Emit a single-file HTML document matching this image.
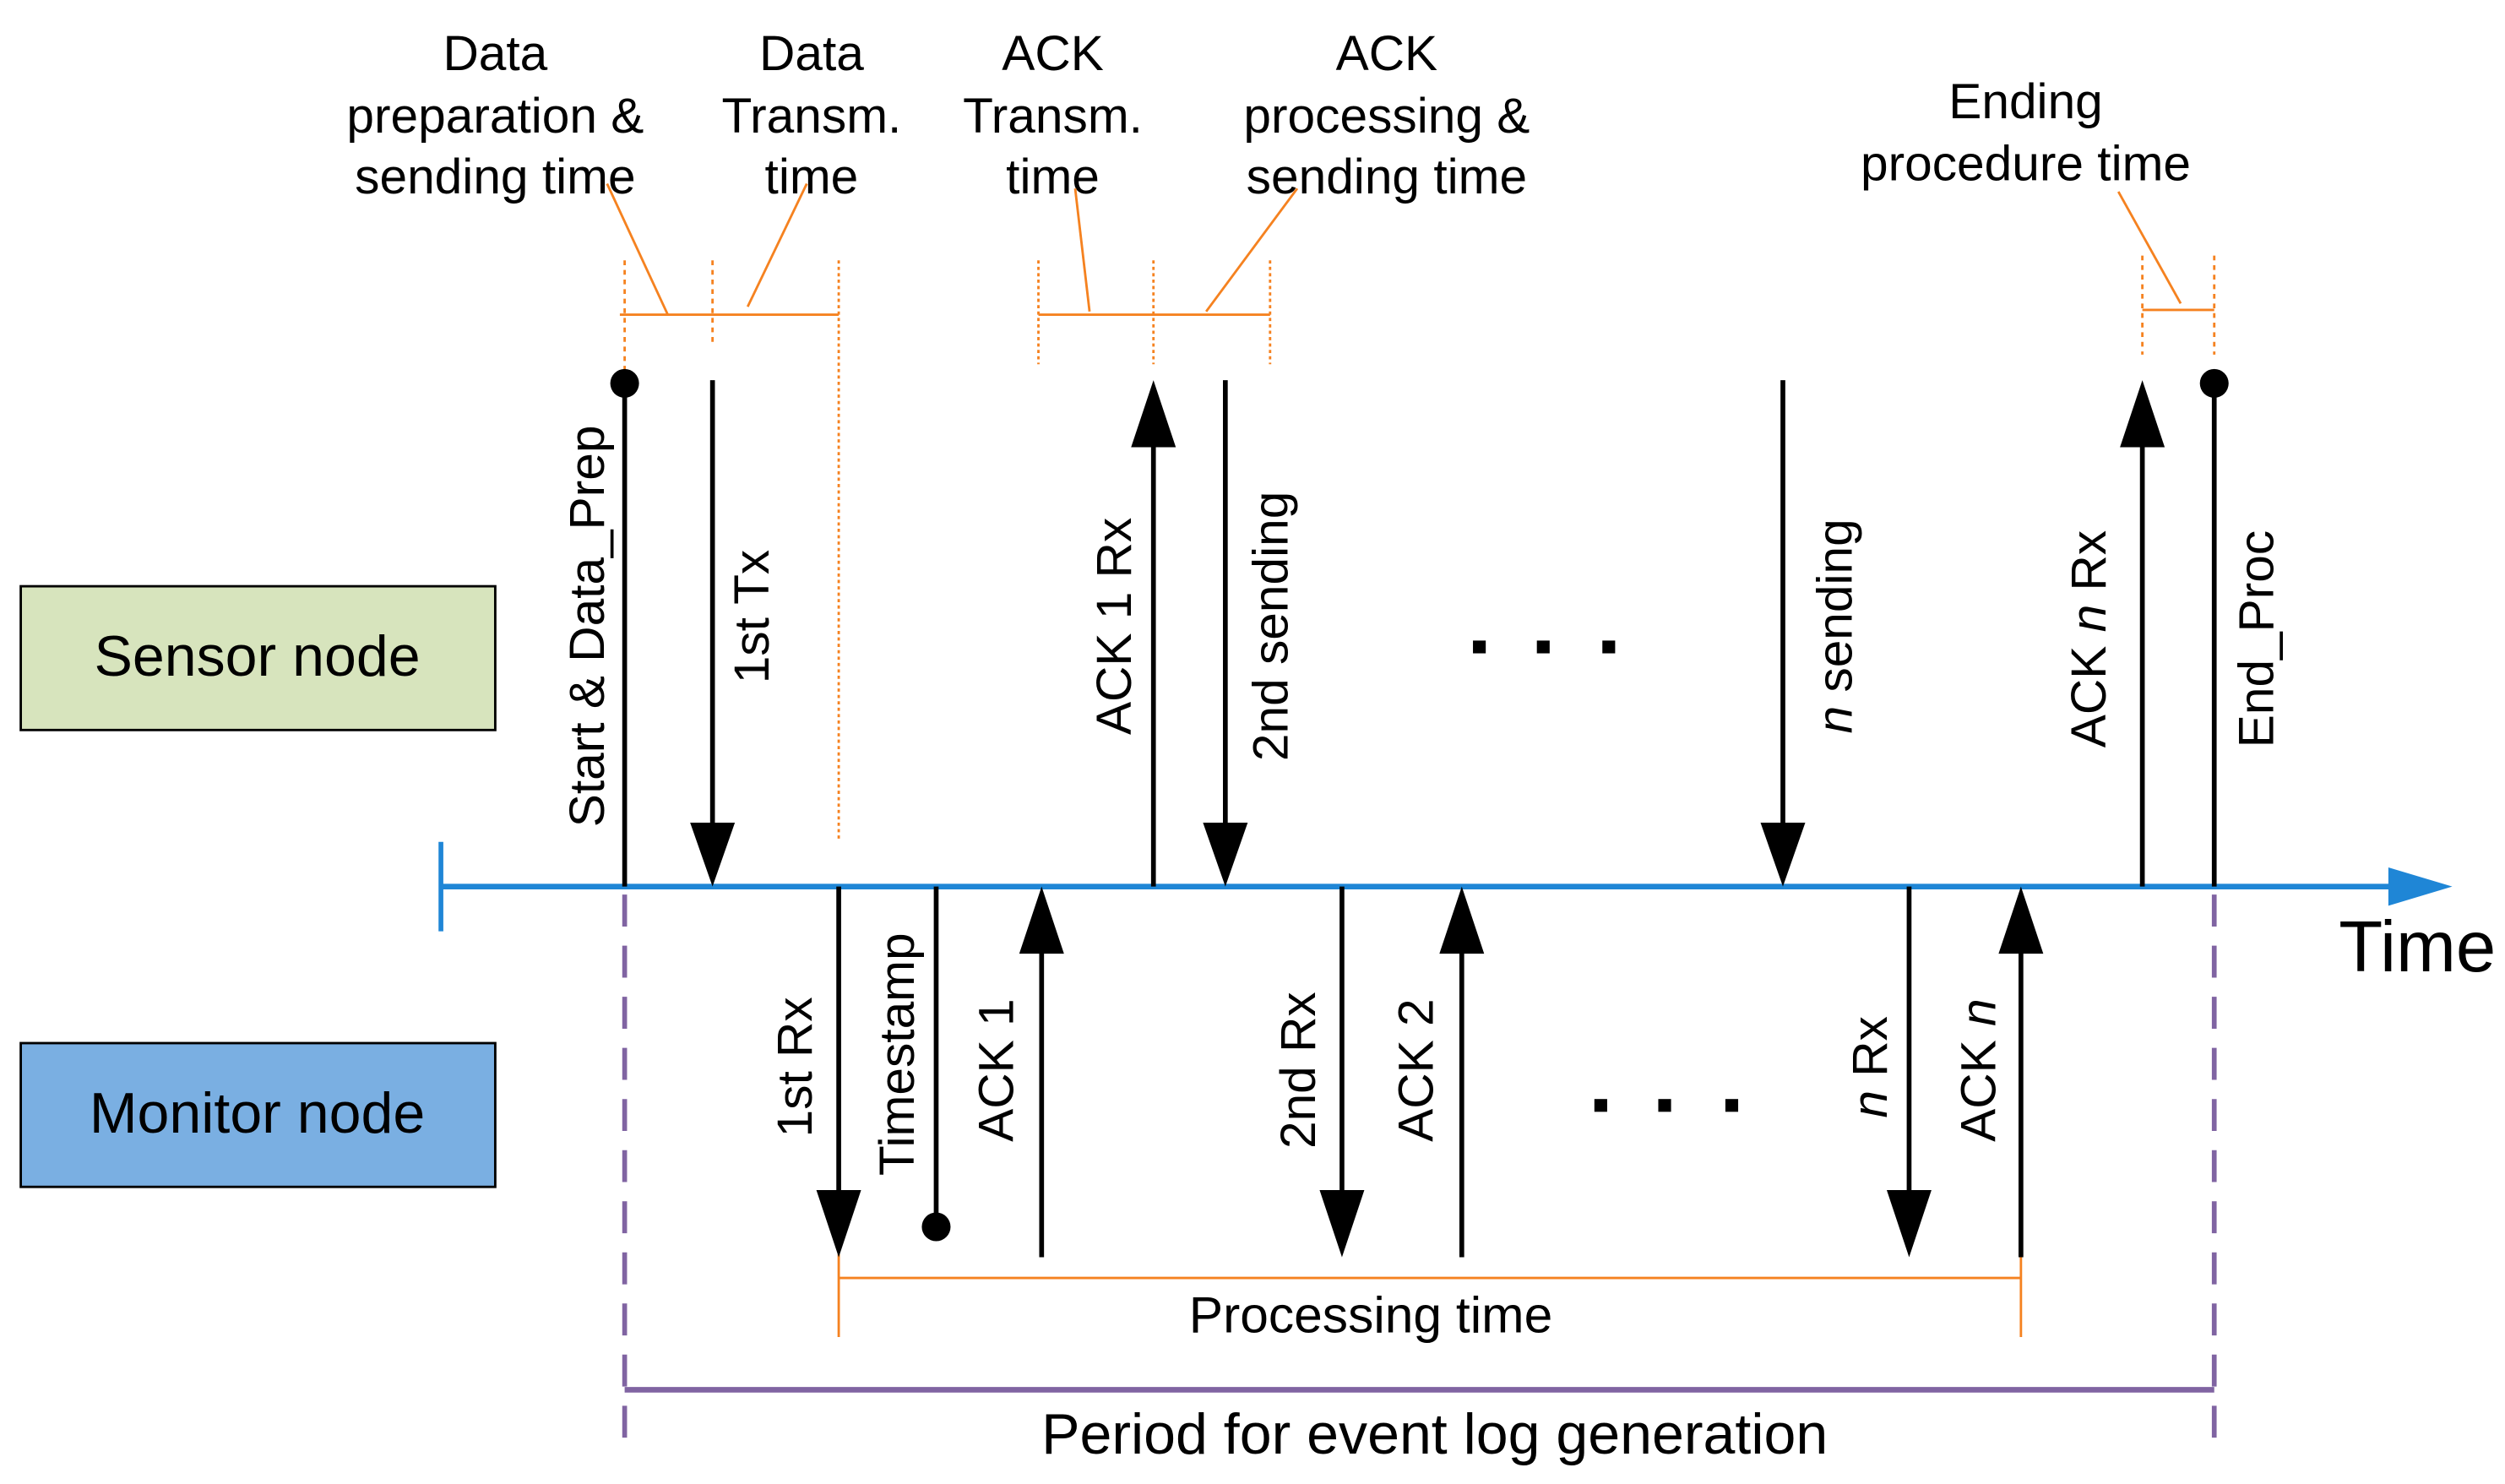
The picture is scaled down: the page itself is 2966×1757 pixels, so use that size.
<!DOCTYPE html>
<html><head><meta charset="utf-8"><style>html,body{margin:0;padding:0;background:#fff}svg{display:block}</style></head>
<body>
<svg width="2966" height="1757" viewBox="0 0 1568 929" preserveAspectRatio="none" xmlns="http://www.w3.org/2000/svg" font-family="Liberation Sans, Arial, sans-serif">
<!-- boxes -->
<rect x="13" y="367" width="297" height="90" fill="#d7e4bd" stroke="#000" stroke-width="1.5"/>
<text x="161" y="423" font-size="36" text-anchor="middle">Sensor node</text>
<rect x="13" y="653" width="297" height="90" fill="#7aafe2" stroke="#000" stroke-width="1.5"/>
<text x="161" y="709" font-size="36" text-anchor="middle">Monitor node</text>
<!-- top labels -->
<g font-size="31" text-anchor="middle">
<text x="310" y="44">Data</text><text x="310" y="83">preparation &amp;</text><text x="310" y="121">sending time</text>
<text x="508" y="44">Data</text><text x="508" y="83">Transm.</text><text x="508" y="121">time</text>
<text x="659" y="44">ACK</text><text x="659" y="83">Transm.</text><text x="659" y="121">time</text>
<text x="868" y="44">ACK</text><text x="868" y="83">processing &amp;</text><text x="868" y="121">sending time</text>
<text x="1268" y="74">Ending</text><text x="1268" y="113">procedure time</text>
</g>
<!-- orange annotations -->
<g stroke="#f58220" stroke-width="1.5" fill="none">
<line x1="391" y1="163" x2="391" y2="235" stroke-dasharray="3,3"/>
<line x1="446" y1="163" x2="446" y2="215" stroke-dasharray="3,3"/>
<line x1="525" y1="163" x2="525" y2="527" stroke-dasharray="2,2"/>
<line x1="388" y1="197" x2="525" y2="197"/>
<line x1="380" y1="115" x2="418" y2="197"/>
<line x1="505" y1="115" x2="468" y2="192"/>
<line x1="650" y1="163" x2="650" y2="228" stroke-dasharray="2,2"/>
<line x1="722" y1="163" x2="722" y2="228" stroke-dasharray="2,2"/>
<line x1="795" y1="163" x2="795" y2="228" stroke-dasharray="2,2"/>
<line x1="650" y1="197" x2="795" y2="197"/>
<line x1="673" y1="118" x2="682" y2="195"/>
<line x1="812" y1="118" x2="755" y2="195"/>
<line x1="1341" y1="160" x2="1341" y2="222" stroke-dasharray="3,3"/>
<line x1="1386" y1="160" x2="1386" y2="222" stroke-dasharray="3,3"/>
<line x1="1341" y1="194" x2="1386" y2="194"/>
<line x1="1326" y1="120" x2="1365" y2="190"/>
<line x1="525" y1="785" x2="525" y2="837"/>
<line x1="1265" y1="785" x2="1265" y2="837"/>
<line x1="525" y1="800" x2="1265" y2="800"/>
</g>
<text x="858" y="834" font-size="32" text-anchor="middle">Processing time</text>
<!-- purple -->
<g stroke="#8064a2" stroke-width="3" fill="none">
<line x1="391" y1="560" x2="391" y2="905" stroke-dasharray="20,12"/>
<line x1="1386" y1="560" x2="1386" y2="905" stroke-dasharray="20,12"/>
<line x1="391" y1="870" x2="1386" y2="870" stroke-width="3.5"/>
</g>
<text x="898" y="910" font-size="36" text-anchor="middle">Period for event log generation</text>
<!-- axis -->
<line x1="276" y1="527" x2="276" y2="583" stroke="#1f86d6" stroke-width="3"/>
<line x1="276" y1="555" x2="1500" y2="555" stroke="#1f86d6" stroke-width="3.5"/>
<polygon points="1495,543 1535,555 1495,567" fill="#1f86d6"/>
<text x="1464" y="608" font-size="45">Time</text>
<!-- black lines -->
<g stroke="#000" stroke-width="3">
<line x1="391" y1="240" x2="391" y2="555"/>
<line x1="446" y1="238" x2="446" y2="520"/>
<line x1="722" y1="275" x2="722" y2="555"/>
<line x1="767" y1="238" x2="767" y2="520"/>
<line x1="1116" y1="238" x2="1116" y2="520"/>
<line x1="1341" y1="275" x2="1341" y2="555"/>
<line x1="1386" y1="240" x2="1386" y2="555"/>
<line x1="525" y1="555" x2="525" y2="750"/>
<line x1="586" y1="555" x2="586" y2="768"/>
<line x1="652" y1="590" x2="652" y2="787"/>
<line x1="840" y1="555" x2="840" y2="750"/>
<line x1="915" y1="590" x2="915" y2="787"/>
<line x1="1195" y1="555" x2="1195" y2="750"/>
<line x1="1265" y1="590" x2="1265" y2="787"/>
</g>
<g fill="#000">
<circle cx="391" cy="240" r="9"/><circle cx="1386" cy="240" r="9"/><circle cx="586" cy="768" r="9"/>
<polygon points="432,515 460,515 446,555"/>
<polygon points="753,515 781,515 767,555"/>
<polygon points="1102,515 1130,515 1116,555"/>
<polygon points="708,280 736,280 722,238"/>
<polygon points="1327,280 1355,280 1341,238"/>
<polygon points="511,745 539,745 525,787"/>
<polygon points="826,745 854,745 840,787"/>
<polygon points="1181,745 1209,745 1195,787"/>
<polygon points="638,597 666,597 652,555"/>
<polygon points="901,597 929,597 915,555"/>
<polygon points="1251,597 1279,597 1265,555"/>
<rect x="922" y="401" width="8" height="8"/><rect x="962" y="401" width="8" height="8"/><rect x="1003" y="401" width="8" height="8"/>
<rect x="998" y="688" width="8" height="8"/><rect x="1038" y="688" width="8" height="8"/><rect x="1080" y="688" width="8" height="8"/>
</g>
<!-- rotated labels -->
<g font-size="31" text-anchor="middle">
<text transform="translate(378,392) rotate(-90)">Start &amp; Data_Prep</text>
<text transform="translate(481,386) rotate(-90)">1st Tx</text>
<text transform="translate(708,392) rotate(-90)">ACK 1 Rx</text>
<text transform="translate(806,392) rotate(-90)">2nd sending</text>
<text transform="translate(1159,392) rotate(-90)"><tspan font-style="italic">n</tspan> sending</text>
<text transform="translate(1318,400) rotate(-90)">ACK <tspan font-style="italic">n</tspan> Rx</text>
<text transform="translate(1423,400) rotate(-90)">End_Proc</text>
<text transform="translate(508,668) rotate(-90)">1st Rx</text>
<text transform="translate(572,660) rotate(-90)">Timestamp</text>
<text transform="translate(634,670) rotate(-90)">ACK 1</text>
<text transform="translate(823,670) rotate(-90)">2nd Rx</text>
<text transform="translate(897,670) rotate(-90)">ACK 2</text>
<text transform="translate(1181,668) rotate(-90)"><tspan font-style="italic">n</tspan> Rx</text>
<text transform="translate(1249,670) rotate(-90)">ACK <tspan font-style="italic">n</tspan></text>
</g>
</svg>
</body></html>
